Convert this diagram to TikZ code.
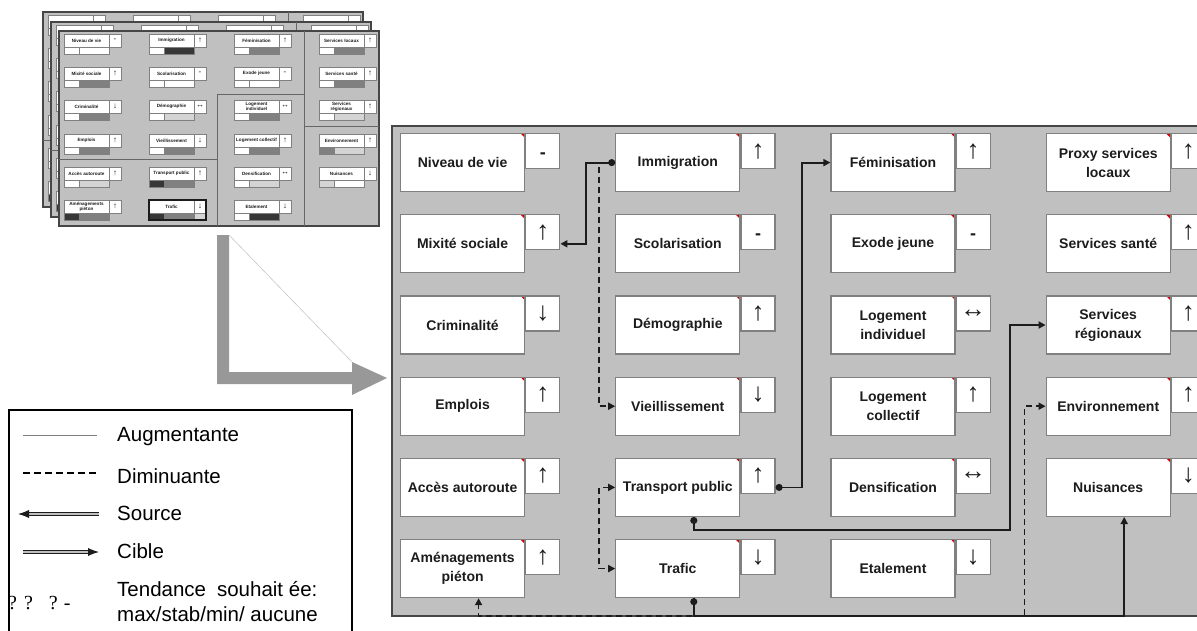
\documentclass[tikz,border=0pt]{standalone}
\usepackage{fontspec}
\setmainfont{Liberation Sans}
\newfontfamily\seriffont{Liberation Serif}
\usetikzlibrary{arrows.meta,positioning}
\definecolor{panelgray}{RGB}{192,192,192}
\definecolor{panelline}{RGB}{70,70,70}
\definecolor{boxline}{RGB}{128,128,128}
\definecolor{inkdark}{RGB}{28,28,28}
\definecolor{bardark}{RGB}{55,55,55}
\definecolor{barmid}{RGB}{128,128,128}
\definecolor{barlight}{RGB}{212,212,212}
\definecolor{bigarrow}{RGB}{152,152,152}

\begin{document}
\begin{tikzpicture}[x=1pt, y=-1pt, node distance=22pt and 90pt,
    varbox/.style={draw=boxline, line width=1.2pt, fill=white, minimum width=124pt, minimum height=58pt,
      inner sep=2pt, align=center, font=\fontsize{14}{19}\selectfont\bfseries, text=inkdark,
      path picture={\fill[red!85!black] (path picture bounding box.north east) -- ++(-4pt,0pt) -- ++(4pt,-4pt) -- cycle;}},
    trendbox/.style={draw=boxline, line width=1.2pt, fill=white, minimum width=34pt, minimum height=35pt,
      anchor=north west, inner sep=0pt, font=\fontsize{26}{26}\selectfont, text=inkdark},
    slink/.style={draw=inkdark, line width=1.8pt, {Circle[length=7pt]}-{Triangle[length=7pt,width=7pt]}},
    dlink/.style={draw=inkdark, line width=1.6pt, dash pattern=on 6pt off 4pt, -{Triangle[length=7pt,width=7pt]}},
    minipanel/.style={draw=panelline, line width=1.5pt, fill=panelgray},
    minisplit/.style={draw=boxline!80!black, line width=0.8pt},
    minibox/.style={draw=boxline, line width=0.5pt, fill=white},
    minibar/.style={draw=boxline, line width=0.5pt},
    minilabel/.style={inner sep=0pt, align=center, font=\fontsize{4.6}{5}\selectfont\bfseries, text=inkdark},
    minitrend/.style={inner sep=0pt, font=\fontsize{8}{8}\selectfont, text=inkdark},
    legtext/.style={anchor=west, inner sep=0pt, font=\fontsize{20.5}{25}\selectfont, align=left}]
  \useasboundingbox (0,0) rectangle (1197,630);

  % stacked thumbnails
  \foreach \px/\py/\front in {43/12/0, 51/22/0, 59/31/1}{
    \begin{scope}[shift={(\px,\py)}]
      \draw[minipanel] (0,0) rectangle (320,195);
      \draw[minisplit] (158,195) -- (158,63) -- (245,63);
      \draw[minisplit] (245,0) -- (245,195);
      \draw[minisplit] (245,95) -- (320,95);
      \draw[minisplit] (0,128) -- (158,128);
      \foreach \cx/\ry/\ca/\cb/\lab/\tr in {
          5/3/white/white/{Niveau de vie}/-, 5/36/white/barmid/{Mixité sociale}/↑,
          5/69/white/barmid/{Criminalité}/↓, 5/103/white/barmid/{Emplois}/↑,
          5/136/white/barlight/{Accès autoroute}/↑, 5/169/bardark/barmid/{Aménagements\\piéton}/↑,
          90/3/white/bardark/{Immigration}/↑, 90/36/white/white/{Scolarisation}/-,
          90/69/white/barlight/{Démographie}/↔, 90/103/white/barmid/{Vieillissement}/↓,
          90/136/bardark/barmid/{Transport public}/↑, 90/169/bardark/barmid/{Trafic}/↓,
          175/3/white/barmid/{Féminisation}/↑, 175/36/white/white/{Exode jeune}/-,
          175/69/white/barmid/{Logement\\individuel}/↔, 175/103/white/barmid/{Logement collectif}/↑,
          175/136/white/barlight/{Densification}/↔, 175/169/white/bardark/{Etalement}/↓,
          260/3/white/barmid/{Services locaux}/↑, 260/36/white/barmid/{Services santé}/↑,
          260/69/white/barlight/{Services\\régionaux}/↑, 260/103/barmid/barlight/{Environnement}/↑,
          260/136/barlight/white/{Nuisances}/↓}{
        \draw[minibox] (\cx,\ry) rectangle ++(45,13);
        \draw[minibox] (\cx+45,\ry) rectangle ++(12,13);
        \filldraw[minibar, fill=\ca] (\cx,\ry+13) rectangle ++(15,7);
        \filldraw[minibar, fill=\cb] (\cx+15,\ry+13) rectangle ++(30,7);
        \ifnum\front=1
          \node[minilabel] (m-\cx-\ry) at (\cx+22.5,\ry+6.5) {\lab};
          \node[minitrend] (mt-\cx-\ry) at (\cx+51,\ry+6.5) {\tr};
        \fi
      }
      \filldraw[minibar, fill=barlight] (135,182) rectangle ++(12,7);
      \draw[inkdark, line width=1.2pt] (90,169) rectangle (147,189);
    \end{scope}
  }

  % bent arrow
  \fill[bigarrow] (217,235) -- (229,235) -- (229,372) -- (352,372) -- (352,362) -- (387,378)
    -- (352,395) -- (352,384) -- (217,384) -- cycle;
  \draw[black!22, line width=0.6pt] (229,235) -- (352,362);

  % legend
  \draw[black, line width=1.2pt, fill=white] (9,410) rectangle (352,660);
  \draw[boxline, line width=1pt] (23,435) -- (97,435);
  \node[legtext] (aug) at (117,437) {Augmentante};
  \draw[black, line width=2pt, dash pattern=on 7pt off 4pt] (23,473) -- (97,473);
  \node[legtext] (dim) at (117,476) {Diminuante};
  \draw[draw=inkdark, line width=1pt, double=black!25, double distance=1.4pt, {Latex[length=11pt]}-] (18,514) -- (99,514);
  \node[legtext] (src) at (117,513) {Source};
  \draw[draw=inkdark, line width=1pt, double=black!25, double distance=1.4pt, -{Latex[length=11pt]}] (23,552) -- (99,552);
  \node[legtext] (cib) at (117,551) {Cible};
  \node[legtext, font=\fontsize{20}{20}\seriffont] (sym) at (8,603) {?\hspace{7pt}?\hspace{16pt}?\hspace{6pt}-};
  \node[legtext] (tend) at (117,602) {Tendance\hspace{11pt}souhait ée:\\max/stab/min/ aucune};

  % main panel
  \draw[draw=panelline, line width=2pt, fill=panelgray] (392,126) rectangle (1215,616);

  \node[varbox, anchor=north west] (niv) at (400,133) {Niveau de vie};
  \node[varbox, below=of niv] (mix) {Mixité sociale};
  \node[varbox, below=of mix] (cri) {Criminalité};
  \node[varbox, below=of cri] (emp) {Emplois};
  \node[varbox, below=of emp] (acc) {Accès autoroute};
  \node[varbox, below=of acc] (ame) {Aménagements\\piéton};

  \node[varbox, right=of niv] (imm) {Immigration};
  \node[varbox, below=of imm] (sco) {Scolarisation};
  \node[varbox, below=of sco] (dem) {Démographie};
  \node[varbox, below=of dem] (vie) {Vieillissement};
  \node[varbox, below=of vie] (tp) {Transport public};
  \node[varbox, below=of tp] (tra) {Trafic};

  \node[varbox, right=of imm] (fem) {Féminisation};
  \node[varbox, below=of fem] (exo) {Exode jeune};
  \node[varbox, below=of exo] (logi) {Logement\\individuel};
  \node[varbox, below=of logi] (logc) {Logement\\collectif};
  \node[varbox, below=of logc] (den) {Densification};
  \node[varbox, below=of den] (eta) {Etalement};

  \node[varbox, right=of fem] (prx) {Proxy services\\locaux};
  \node[varbox, below=of prx] (san) {Services santé};
  \node[varbox, below=of san] (ser) {Services\\régionaux};
  \node[varbox, below=of ser] (env) {Environnement};
  \node[varbox, below=of env] (nui) {Nuisances};

  % trends
  \node[trendbox] (niv-t) at (niv.north east) {\smash{\raisebox{-7pt}{\fontsize{18}{18}\selectfont\textbf{-}}}};
  \node[trendbox] (mix-t) at (mix.north east) {↑};
  \node[trendbox] (cri-t) at (cri.north east) {↓};
  \node[trendbox] (emp-t) at (emp.north east) {↑};
  \node[trendbox] (acc-t) at (acc.north east) {↑};
  \node[trendbox] (ame-t) at (ame.north east) {↑};
  \node[trendbox] (imm-t) at (imm.north east) {↑};
  \node[trendbox] (sco-t) at (sco.north east) {\smash{\raisebox{-7pt}{\fontsize{18}{18}\selectfont\textbf{-}}}};
  \node[trendbox] (dem-t) at (dem.north east) {↑};
  \node[trendbox] (vie-t) at (vie.north east) {↓};
  \node[trendbox] (tp-t) at (tp.north east) {↑};
  \node[trendbox] (tra-t) at (tra.north east) {↓};
  \node[trendbox] (fem-t) at (fem.north east) {↑};
  \node[trendbox] (exo-t) at (exo.north east) {\smash{\raisebox{-7pt}{\fontsize{18}{18}\selectfont\textbf{-}}}};
  \node[trendbox] (logi-t) at (logi.north east) {↔};
  \node[trendbox] (logc-t) at (logc.north east) {↑};
  \node[trendbox] (den-t) at (den.north east) {↔};
  \node[trendbox] (eta-t) at (eta.north east) {↓};
  \node[trendbox] (prx-t) at (prx.north east) {↑};
  \node[trendbox] (san-t) at (san.north east) {↑};
  \node[trendbox] (ser-t) at (ser.north east) {↑};
  \node[trendbox] (env-t) at (env.north east) {↑};
  \node[trendbox] (nui-t) at (nui.north east) {↓};

  % links
  \draw[dlink] (imm.west) -- ++(-16,0) |- (vie.west);
  \draw[slink] (imm.west) -- ++(-29,0) |- (mix-t.east |- mix.east);
  \draw[dlink, {Triangle[length=7pt,width=7pt]}-{Triangle[length=7pt,width=7pt]}] (tp.west) -- ++(-16,0) |- (tra.west);
  \draw[slink] (tp-t.east |- tp.east) -- ++(26,0) |- (fem.west);
  \draw[slink] ([xshift=16pt]tp.south) -- ++(0,13) -| ([xshift=-36pt]ser.west) -- (ser.west);
  \draw[slink] ([xshift=16pt]tra.south) -- ++(0,18) -| ([xshift=16pt]nui.south);
  \draw[dlink] ([xshift=16pt]tra.south) -- ++(0,18) -| ([xshift=-21pt]env.west) -- (env.west);
  \draw[dlink] ([xshift=16pt]tra.south) -- ++(0,18) -| ([xshift=16pt]ame.south);
\end{tikzpicture}
\end{document}
